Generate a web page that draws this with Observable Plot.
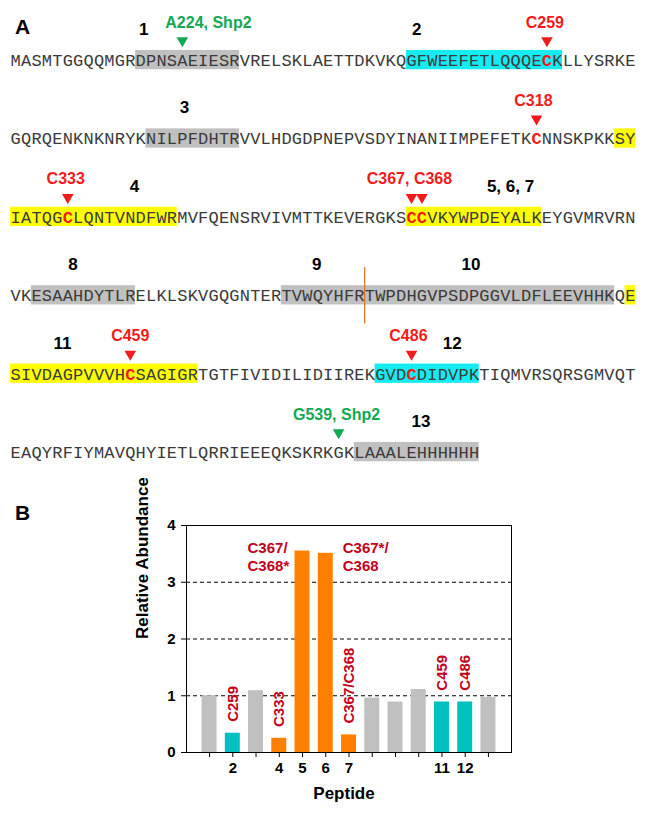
<!DOCTYPE html>
<html><head><meta charset="utf-8">
<script src="https://cdn.jsdelivr.net/npm/d3@7"></script>
<script src="https://cdn.jsdelivr.net/npm/@observablehq/plot@0.6"></script>
<style>
body{margin:0;background:#fff;}
#fig{width:648px;}
#fig svg{display:block;}
</style></head><body><div id="fig"></div>
<script>
// ---------- Panel A data ----------
const sequenceRows = [
  "MASMTGGQQMGRDPNSAEIESRVRELSKLAETTDKVKQGFWEEFETLQQQECKLLYSRKE",
  "GQRQENKNKNRYKNILPFDHTRVVLHDGDPNEPVSDYINANIIMPEFETKCNNSKPKKSY",
  "IATQGCLQNTVNDFWRMVFQENSRVIVMTTKEVERGKSCCVKYWPDEYALKEYGVMRVRN",
  "VKESAAHDYTLRELKLSKVGQGNTERTVWQYHFRTWPDHGVPSDPGGVLDFLEEVHHKQE",
  "SIVDAGPVVVHCSAGIGRTGTFIVIDILIDIIREKGVDCDIDVPKTIQMVRSQRSGMVQT",
  "EAQYRFIYMAVQHYIETLQRRIEEEQKSKRKGKLAAALEHHHHHH"
];
// highlighted peptide spans: row, first residue index, end index (exclusive), kind
const highlightRow  = [0, 0, 1, 1, 2, 2, 3, 3, 3, 4, 4, 5];
const highlightFrom = [12, 38, 13, 58, 0, 38, 2, 26, 59, 0, 35, 33];
const highlightTo   = [22, 53, 22, 60, 16, 51, 12, 58, 60, 18, 45, 45];
const highlightKind = ["detected","decreased","detected","modified","modified","modified","detected","detected","modified","modified","decreased","detected"];
// peptide numbers (position in residues along the row)
const peptideText = ["1","2","3","4","5, 6, 7","8","9","10","11","12","13"];
const peptideRow  = [0, 0, 1, 2, 2, 3, 3, 3, 4, 4, 5];
const peptidePos  = [12.8, 39.0, 16.7, 11.9, 48.0, 6.0, 29.4, 44.2, 5.0, 42.4, 39.4];
// marked residues (arrows)
const arrowRow  = [0, 0, 1, 2, 2, 2, 4, 4, 5];
const arrowIdx  = [16, 51, 50, 5, 38, 39, 11, 38, 31];
const arrowKind = ["shp2","cys","cys","cys","cys","cys","cys","cys","shp2"];
// site labels
const siteText = ["A224, Shp2","C259","C318","C333","C367, C368","C459","C486","G539, Shp2"];
const siteRow  = [0, 0, 1, 2, 2, 4, 4, 5];
const sitePos  = [19.0, 51.3, 50.2, 5.3, 38.3, 11.5, 38.2, 31.3];
const siteKind = ["shp2","cys","cys","cys","cys","cys","cys","shp2"];
// tryptic boundary between peptides 9 and 10
const boundaryRow = [3];
const boundaryPos = [34];

// ---------- Panel B data ----------
const peptides  = [1,2,3,4,5,6,7,8,9,10,11,12,13];
const abundance = [1.00,0.34,1.09,0.25,3.55,3.51,0.31,0.96,0.89,1.11,0.89,0.89,0.97];
const barGroup  = ["other","cys","other","mod","mod","mod","mod","other","other","other","cys","cys","other"];
const yTicks = [0,1,2,3,4];
const labeledPeptides = [2,4,5,6,7,11,12];
const noteVertPeptide = [2,4,7,11,12];
const noteVertText    = ["C259","C333","C367/C368","C459","C486"];
const noteLeftPeptide  = [5];
const noteLeftText     = ["C367/\nC368*"];
const noteRightPeptide = [6];
const noteRightText    = ["C367*/\nC368"];

// ---------- build tables ----------
const hl = highlightRow.map((row,i)=>({row, from:highlightFrom[i], to:highlightTo[i], kind:highlightKind[i]}));
const arrows = arrowRow.map((row,i)=>({row, idx:arrowIdx[i], kind:arrowKind[i]}));
const redSet = new Set(arrows.filter(a=>a.kind==="cys").map(a=>a.row+":"+a.idx));
const chars = sequenceRows.flatMap((s,row)=>Array.from(s,(ch,i)=>({row,i,ch,red:redSet.has(row+":"+i)})));
const pepLabels = peptideText.map((t,i)=>({text:t,row:peptideRow[i],pos:peptidePos[i]}));
const sites = siteText.map((t,i)=>({text:t,row:siteRow[i],pos:sitePos[i],kind:siteKind[i]}));
const bounds = boundaryRow.map((row,i)=>({row,pos:boundaryPos[i]}));

const RED = "#f21b1b", GREEN = "#12a854";
const seqFont = "'Liberation Mono', 'DejaVu Sans Mono', monospace";
const sans = "'Liberation Sans', Arial, sans-serif";

const panelA = Plot.plot({
  width: 648, height: 470,
  marginLeft: 0, marginRight: 0, marginTop: 0, marginBottom: 0,
  x: {domain: [0, 60], range: [10, 635], axis: null},
  y: {domain: [0, 5], range: [60, 452], axis: null},
  color: {type: "ordinal", domain: ["detected","decreased","modified"], range: ["#c0c0c0","#14ecf2","#ffff00"]},
  style: {fontFamily: sans, background: "white"},
  marks: [
    Plot.rect(hl, {x1: "from", x2: "to", y1: d => d.row - 0.128, y2: d => d.row + 0.118, fill: "kind"}),
    Plot.ruleX(bounds, {x: "pos", y1: d => d.row - 0.36, y2: d => d.row + 0.36, stroke: "#d9731f", strokeWidth: 1.2}),
    Plot.text(chars.filter(d => !d.red), {x: d => d.i + 0.5, y: "row", text: "ch", fontFamily: seqFont, fontSize: 17, fill: "#3a3a3a"}),
    Plot.text(chars.filter(d => d.red), {x: d => d.i + 0.5, y: "row", text: "ch", fontFamily: seqFont, fontWeight: "bold", fontSize: 17, fill: RED}),
    Plot.dot(arrows, {x: d => d.idx + 0.5, y: "row", dy: -20, symbol: "triangle", rotate: 180, r: 4.3,
      fill: d => d.kind === "cys" ? RED : GREEN, stroke: "none"}),
    Plot.text(pepLabels, {x: "pos", y: "row", text: "text", dy: -31, fontSize: 17, fontWeight: "bold", fill: "black"}),
    Plot.text(sites, {x: "pos", y: "row", text: "text", dy: -38, fontSize: 16, fontWeight: "bold",
      fill: d => d.kind === "cys" ? RED : GREEN}),
    Plot.text(["A"], {frameAnchor: "top-left", dx: 22, dy: 19, textAnchor: "middle", fontSize: 21, fontWeight: "bold", fill: "black"})
  ]
});

const bars = peptides.map((p,i)=>({peptide:p, value:abundance[i], group:barGroup[i]}));
const value = p => abundance[peptides.indexOf(p)];
const vertNotes = noteVertPeptide.map((p,i)=>({peptide:p, text:noteVertText[i]}));
const leftNotes = noteLeftPeptide.map((p,i)=>({peptide:p, text:noteLeftText[i]}));
const rightNotes = noteRightPeptide.map((p,i)=>({peptide:p, text:noteRightText[i]}));
const DARKRED = "#c4001a";

const panelB = Plot.plot({
  width: 648, height: 350,
  marginLeft: 186, marginRight: 137, marginTop: 55, marginBottom: 68,
  x: {type: "band", domain: peptides, paddingInner: 0.355, paddingOuter: 0.67, round: false, axis: null},
  y: {domain: [0, 4], axis: null},
  color: {type: "ordinal", domain: ["other","cys","mod"], range: ["#c0c0c0","#00c0c0","#ff8000"]},
  style: {fontFamily: sans, fontWeight: "bold", fontSize: "15px", background: "white", color: "black"},
  marks: [
    Plot.ruleY([1,2,3], {stroke: "black", strokeDasharray: "4,3"}),
    Plot.barY(bars, {x: "peptide", y: "value", fill: "group"}),
    Plot.axisY({ticks: yTicks, tickSize: 5, tickPadding: 6, label: null, fontSize: 15, fontWeight: "bold", tickFormat: d => String(d)}),
    Plot.axisX({ticks: peptides, tickSize: 5, tickPadding: 5, label: null, fontSize: 15, fontWeight: "bold",
      tickFormat: d => labeledPeptides.includes(d) ? String(d) : ""}),
    Plot.frame({stroke: "black"}),
    Plot.text(vertNotes, {x: "peptide", y: d => value(d.peptide) + 0.2, text: "text", rotate: -90, textAnchor: "start",
      fill: DARKRED, fontSize: 15, fontWeight: "bold"}),
    Plot.text(leftNotes, {x: "peptide", y: d => value(d.peptide) - 0.1, text: "text", textAnchor: "start",
      dx: -55, fill: DARKRED, fontSize: 15, fontWeight: "bold", lineHeight: 1.2}),
    Plot.text(rightNotes, {x: "peptide", y: d => value(d.peptide) - 0.06, text: "text", textAnchor: "start",
      dx: 17, fill: DARKRED, fontSize: 15, fontWeight: "bold", lineHeight: 1.2}),
    Plot.text(["Relative Abundance"], {frameAnchor: "left", rotate: -90, dx: -44, fontSize: 17, fontWeight: "bold", fill: "black"}),
    Plot.text(["Peptide"], {frameAnchor: "bottom", dx: -5, dy: 46, fontSize: 17, fontWeight: "bold", fill: "black"}),
    Plot.text(["B"], {frameAnchor: "top-left", dx: -164, dy: -20, textAnchor: "middle", fontSize: 21, fontWeight: "bold", fill: "black"})
  ]
});

document.getElementById("fig").append(panelA, panelB);
</script></body></html>
